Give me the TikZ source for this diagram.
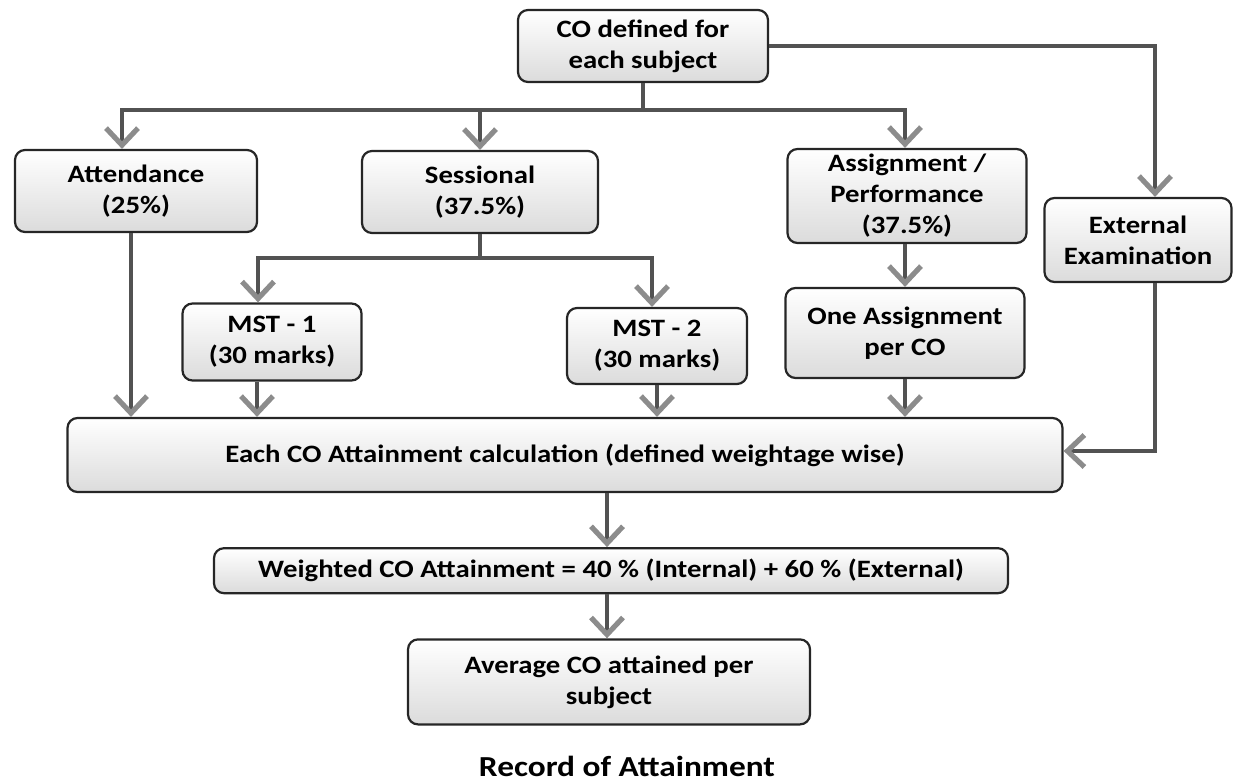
\documentclass[tikz,border=0pt]{standalone}
\usepackage{fontspec}
\setmainfont{Carlito}[FakeStretch=1.15]
\usetikzlibrary{arrows.meta,positioning}
\tikzset{
    %Define standard arrow tip
    >={Straight Barb[length=8.5pt,width=16pt,line width=2.6pt,color=black!45]},
    blok/.style={
      rectangle,
      rounded corners=5pt,
      draw=black!85, line width=1.1pt,
      top color=white, bottom color=black!14,
      align=center,
      inner sep=1pt,
      font=\bfseries\fontsize{12.5}{15.5}\selectfont},
    link/.style={
      draw=black!68,
      line width=1.6pt},
    caption/.style={
      font=\bfseries\fontsize{14.5}{17}\selectfont},
}
\begin{document}
\begin{tikzpicture}[x=0.5pt,y=-0.5pt]
    \useasboundingbox (0,0) rectangle (1234,781);
    % top level
    \node (co) [blok, minimum width=125pt, minimum height=36pt] at (643,46)
          {CO defined for\\each subject};
    \coordinate (bus) at (643,110);
    \node (att) [blok, minimum width=121pt, minimum height=41pt] at (136,191)
          {Attendance\\(25\%)};
    \node (ses) [blok, minimum width=118pt, minimum height=41pt] at (480,192)
          {Sessional\\(37.5\%)};
    \node (asg) [blok, minimum width=119.5pt, minimum height=47pt] at (907,196)
          {Assignment /\\Performance\\(37.5\%)};
    \node (ext) [blok, minimum width=93.5pt, minimum height=42pt] at (1138,240)
          {External\\Examination};
    % second level
    \coordinate (split) at (480,258);
    \node (mst1) [blok, minimum width=89.5pt, minimum height=38.5pt] at (272,342)
          {MST - 1\\(30 marks)};
    \node (mst2) [blok, minimum width=90pt, minimum height=38pt] at (657,346)
          {MST - 2\\(30 marks)};
    \node (one) [blok, minimum width=119.5pt, minimum height=45pt] at (905,333)
          {One Assignment\\per CO};
    % bottom chain
    \node (each) [blok, minimum width=497.5pt, minimum height=37pt] at (565,455)
          {Each CO Attainment calculation (defined weightage wise)};
    \node (wgt) [blok, minimum width=397pt, minimum height=22.5pt]
          [below=27pt of each, xshift=23pt]
          {Weighted CO Attainment = 40 \% (Internal) + 60 \% (External)};
    \node (avg) [blok, minimum width=201pt, minimum height=42.5pt]
          [below=22pt of wgt, xshift=-1pt]
          {Average CO attained per\\subject};
    \node (rec) [caption] at (627,766)
          {Record of Attainment};
    % connectors
    \draw[link] (co.south) -- (bus);
    \draw[link,->] (bus) -| ([xshift=-7pt]att.north);
    \draw[link,->] (bus) -| (ses.north);
    \draw[link,->] (bus) -| ([xshift=-1pt]asg.north);
    \draw[link,->] (co.east) -| ([xshift=8.5pt]ext.north);
    \draw[link] (ses.south) -- (split);
    \draw[link,->] (split) -| ([xshift=-7pt]mst1.north);
    \draw[link,->] (split) -| ([xshift=-2.5pt]mst2.north);
    \draw[link,->] ([xshift=-1pt]asg.south) -- (one.north);
    \draw[link,->] ([xshift=-2.5pt]att.south) -- ([xshift=-2.5pt]att.south |- each.north);
    \draw[link,->] ([xshift=-7.5pt]mst1.south) -- ([xshift=-7.5pt]mst1.south |- each.north);
    \draw[link,->] (mst2.south) -- (mst2.south |- each.north);
    \draw[link,->] (one.south) -- (one.south |- each.north);
    \draw[link,->] ([xshift=8.5pt]ext.south) |- ([yshift=2pt]each.east);
    \draw[link,->] ([xshift=-2pt]wgt.north |- each.south) -- ([xshift=-2pt]wgt.north);
    \draw[link,->] ([xshift=-2pt]wgt.south) -- ([xshift=-2pt]wgt.south |- avg.north);
\end{tikzpicture}
\end{document}
